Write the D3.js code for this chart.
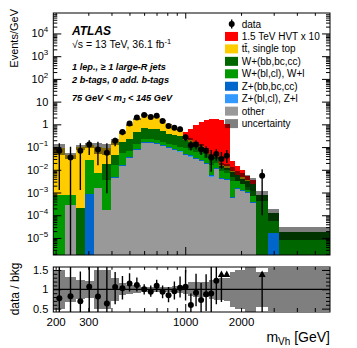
<!DOCTYPE html>
<html>
<head>
<meta charset="utf-8">
<script src="https://cdn.jsdelivr.net/npm/d3@7"></script>
<style>
  body { margin: 0; background: #fff; }
  svg { display: block; font-family: "Liberation Sans", Arial, Helvetica, sans-serif; }
  .hist rect { shape-rendering: crispEdges; }
</style>
</head>
<body>
<div id="chart"></div>
<script>
// bin edges in GeV (variable width)
const binEdges = [193, 224, 255, 286, 318, 355, 397, 436, 476, 520, 571, 624, 672, 723, 778, 838, 900, 965, 1032,
  1101, 1173, 1248, 1329, 1417, 1509, 1608, 1722, 1845, 1971, 2100, 2230, 2400, 2780, 3170, 3700, 4110, 5140, 6000];

// backgrounds, Events/GeV, one value per bin
const otherBkg = [0, 2.8e-4, 0, 0, 1.55e-3, 1.7e-4, 4.3e-3, 0.015, 0.032, 0.074,
  0.145, 0.145, 0.13, 0.11, 0.09, 0.075, 0.062, 0.045, 0.038, 0.03,
  0.024, 0.018, 0.005, 0.011, 0.004, 0.0035, 6e-4, 1.5e-3, 1.2e-3, 1e-3,
  3.6e-4, 0, 0, 0, 0, 0, 0];
const zLight = [0, 0, 0, 0, 0, 0, 1e-4, 4e-4, 1e-3, 2e-3,
  4e-3, 4e-3, 4e-3, 3e-3, 3e-3, 2e-3, 2e-3, 1.3e-3, 1.1e-3, 9e-4,
  7e-4, 5e-4, 1.5e-4, 3e-4, 1.2e-4, 1e-4, 0, 0, 0, 0,
  0, 0, 0, 0, 0, 0, 0];
const zHeavy = [0, 0, 0, 8.5e-4, 5e-5, 0, 3e-4, 1.2e-3, 3e-3, 7e-3,
  0.014, 0.014, 0.013, 0.011, 0.009, 0.008, 0.006, 0.004, 0.0035, 0.003,
  0.0024, 0.0018, 5e-4, 1.1e-3, 4e-4, 3.5e-4, 6e-5, 1.5e-4, 1.2e-4, 1e-4,
  4e-5, 0, 1.6e-5, 0, 0, 0, 0];
const wLight = [8e-4, 5e-4, 0, 0.026, 5.4e-3, 3.3e-3, 0.011, 0.04, 0.03, 0.05,
  0.06, 0.055, 0.055, 0.045, 0.04, 0.035, 0.035, 0.04, 0.035, 0.025,
  0.02, 0.014, 0.01, 0.008, 0.004, 0.0035, 0.0025, 0.0015, 0.001, 7e-4,
  8e-4, 0, 0, 0, 0, 0, 0];
const wHeavy = [0, 0, 2e-4, 0, 0, 0.015, 0.029, 0.11, 0.17, 0.33,
  0.46, 0.42, 0.40, 0.32, 0.25, 0.22, 0.2, 0.12, 0.095, 0.065,
  0.05, 0.035, 0.018, 0.015, 0.006, 0.005, 0.0045, 0.0025, 0.0018, 0.0015,
  0.0011, 8e-4, 1.04e-4, 1.9e-5, 1.9e-5, 1.9e-5, 1.9e-5];
const topBkg = [0.089, 0.042, 0.10, 0.095, 0.09, 0.07, 0.135, 0.28, 0.72, 1.34,
  1.92, 1.6, 1.6, 1.01, 0.6, 0.41, 0.28, 0.043, 0.03, 0.019,
  0.015, 0.01, 0.0056, 0.0055, 0.0018, 0.0018, 0.0013, 5e-4, 5e-4, 3e-4,
  1.4e-4, 0, 0, 0, 0, 0, 0];
const hvtSignal = [0, 0, 0, 0, 0, 0, 0, 0, 0, 0,
  0, 0, 0, 0, 0, 0, 0.01, 0.22, 0.43, 0.8,
  1.2, 1.5, 1.75, 1.75, 1.6, 1.0, 0.015, 0.008, 0.005, 0.002,
  0.001, 0, 0, 0, 0, 0, 0];
// relative background uncertainty per bin
const bkgUnc = [0.5, 0.33, 0.25, 0.22, 0.5, 0.5, 0.3, 0.15, 0.12, 0.1,
  0.07, 0.06, 0.06, 0.06, 0.07, 0.08, 0.09, 0.12, 0.18, 0.2,
  0.2, 0.2, 0.25, 0.27, 0.28, 0.3, 0.45, 0.5, 0.5, 0.65,
  0.7, 0.45, 0.55, 0.55, 0.55, 0.55, 0.55];

// data points: bin index, value and error bar ends
const dataBins = [0, 1, 2, 3, 4, 5, 6, 7, 8, 9, 10, 11, 12, 13, 14, 15, 16, 17, 18, 19, 20, 21, 22, 23, 24, 25, 31];
const dataVals = [0.069, 0.035, 0.069, 0.13, 0.079, 0.056, 0.19, 0.46, 1.1, 2.0, 2.6, 2.1, 2.4, 1.4, 0.84, 0.71,
  0.61, 0.27, 0.12, 0.13, 0.081, 0.069, 0.035, 0.050, 0.030, 0.042, 0.0054];
const dataHi = [0.146, 0.104, 0.146, 0.2, 0.17, 0.146, 0.26, 0.6, 1.35, 2.35, 2.95, 2.45, 2.75, 1.65, 1.05, 0.9,
  0.78, 0.38, 0.18, 0.2, 0.13, 0.11, 0.074, 0.08, 0.06, 0.074, 0.0105];
const dataLo = [1.3e-3, 0, 1.3e-3, 0.045, 0.016, 9.3e-4, 0.11, 0.33, 0.9, 1.7, 2.25, 1.8, 2.05, 1.15, 0.66, 0.55,
  0.46, 0.18, 0.07, 0.08, 0.045, 0.035, 0.0083, 0.025, 0.011, 0.02, 1.0e-4];

const xTickLabels = [200, 300, 1000, 2000];
const yRatioLabels = [0.5, 1, 1.5];

const legendItems = [
  { label: "1.5 TeV HVT x 10", color: "#ff0000" },
  { label: "tt\u0304, single top", color: "#ffcc00" },
  { label: "W+(bb,bc,cc)", color: "#006600" },
  { label: "W+(bl,cl), W+l", color: "#009900" },
  { label: "Z+(bb,bc,cc)", color: "#0066cc" },
  { label: "Z+(bl,cl), Z+l", color: "#3399ff" },
  { label: "other", color: "#999999" }
];

const width = 357;
const height = 348;
const left = 53.3, right = 330;
const mainTop = 13, mainBot = 255;
const ratTop = 267, ratBot = 312;

const svg = d3.select("#chart").append("svg")
  .attr("width", width)
  .attr("height", height);

const x = d3.scaleLog().domain([193, 6000]).range([left, right]);
const yMin = Math.pow(10, -5.75), yMax = Math.pow(10, 4.9);
const y = d3.scaleLog().domain([yMin, yMax]).range([mainBot, mainTop]);
const yr = d3.scaleLinear().domain([0.413, 1.576]).range([ratBot, ratTop]);

const defs = svg.append("defs");
defs.append("clipPath").attr("id", "clipMain").append("rect")
  .attr("x", left).attr("y", mainTop).attr("width", right - left).attr("height", mainBot - mainTop);
defs.append("clipPath").attr("id", "clipRatio").append("rect")
  .attr("x", left).attr("y", ratTop).attr("width", right - left).attr("height", ratBot - ratTop);

const nBins = binEdges.length - 1;
const bins = d3.range(nBins).map(i => ({ lo: binEdges[i], hi: binEdges[i + 1] }));

// stacked histogram
const layers = [
  { vals: otherBkg, color: "#999999" },
  { vals: zLight, color: "#3399ff" },
  { vals: zHeavy, color: "#0066cc" },
  { vals: wLight, color: "#009900" },
  { vals: wHeavy, color: "#006600" },
  { vals: topBkg, color: "#ffcc00" },
  { vals: hvtSignal, color: "#ff0000" }
];
const gMain = svg.append("g").attr("class", "hist").attr("clip-path", "url(#clipMain)");
const cum = bins.map(() => 0);
const bkgTotal = bins.map((b, i) => otherBkg[i] + zLight[i] + zHeavy[i] + wLight[i] + wHeavy[i] + topBkg[i]);
layers.forEach(layer => {
  bins.forEach((b, i) => {
    const v = layer.vals[i];
    if (!(v > 0)) return;
    const y0 = cum[i] > 0 ? y(cum[i]) : mainBot;
    const y1 = y(cum[i] + v);
    gMain.append("rect")
      .attr("x", x(b.lo))
      .attr("width", x(b.hi) - x(b.lo))
      .attr("y", y1)
      .attr("height", Math.max(0, y0 - y1))
      .attr("fill", layer.color);
    cum[i] += v;
  });
});

// uncertainty band on the total background
bins.forEach((b, i) => {
  const t = bkgTotal[i];
  if (!(t > 0)) return;
  const up = y(t * (1 + bkgUnc[i]));
  const dn = t * (1 - bkgUnc[i]) > 0 ? y(t * (1 - bkgUnc[i])) : mainBot;
  gMain.append("rect")
    .attr("x", x(b.lo)).attr("width", x(b.hi) - x(b.lo))
    .attr("y", up).attr("height", dn - up)
    .attr("fill", "#000").attr("fill-opacity", 0.5);
});

// data
const pts = dataBins.map((bi, k) => {
  const b = bins[bi];
  return { x: Math.sqrt(b.lo * b.hi), v: dataVals[k], lo: dataLo[k], hi: dataHi[k], bkg: bkgTotal[bi] };
});
const gPts = svg.append("g").attr("clip-path", "url(#clipMain)");
gPts.selectAll(".err").data(pts).enter().append("line")
  .attr("x1", d => x(d.x)).attr("x2", d => x(d.x))
  .attr("y1", d => y(d.hi)).attr("y2", d => d.lo > 0 ? y(d.lo) : mainBot)
  .attr("stroke", "#000").attr("stroke-width", 1.4);
gPts.selectAll(".dot").data(pts).enter().append("circle")
  .attr("cx", d => x(d.x)).attr("cy", d => y(d.v)).attr("r", 3)
  .attr("fill", "#000");

// frame & ticks helper
function frame(y0, y1) {
  svg.append("rect").attr("x", left).attr("y", y0).attr("width", right - left).attr("height", y1 - y0)
    .attr("fill", "none").attr("stroke", "#000").attr("stroke-width", 1);
}

function logMinors(d0, d1) {
  const out = [];
  for (let e = Math.floor(Math.log10(d0)); e <= Math.ceil(Math.log10(d1)); e++) {
    for (let k = 2; k <= 9; k++) {
      const v = k * Math.pow(10, e);
      if (v > d0 && v < d1) out.push(v);
    }
  }
  return out;
}

function drawXTicks(y0, y1) {
  const minors = logMinors(193, 6000).filter(v => v !== 1000);
  const g = svg.append("g");
  [[minors, 4], [[1000], 8]].forEach(([vals, len]) => {
    vals.forEach(v => {
      g.append("line").attr("x1", x(v)).attr("x2", x(v)).attr("y1", y1).attr("y2", y1 - len).attr("stroke", "#000");
      g.append("line").attr("x1", x(v)).attr("x2", x(v)).attr("y1", y0).attr("y2", y0 + len * 0.7).attr("stroke", "#000");
    });
  });
}

// main y axis
const yMajor = d3.range(-5, 5).map(e => Math.pow(10, e));
const yMinor = logMinors(yMin, yMax);
const supFmt = function (d) {
  const e = Math.round(Math.log10(d));
  const t = d3.select(this);
  t.text(null);
  if (e === 0) { t.text("1"); return; }
  if (e === 1) { t.text("10"); return; }
  t.append("tspan").text("10");
  t.append("tspan").attr("dy", -5).attr("font-size", 8).text(e < 0 ? "\u2212" + (-e) : e);
};
const axL = svg.append("g").attr("transform", `translate(${left},0)`)
  .call(d3.axisLeft(y).tickValues(yMajor).tickSize(-8).tickPadding(5).tickFormat(""));
axL.selectAll("text").each(supFmt);
axL.selectAll(".tick text").attr("font-size", 11).attr("fill", "#000").attr("font-family", null);
svg.append("g").attr("transform", `translate(${left},0)`)
  .call(d3.axisLeft(y).tickValues(yMinor).tickSize(-4).tickFormat(""));
svg.append("g").attr("transform", `translate(${right},0)`)
  .call(d3.axisRight(y).tickValues(yMajor).tickSize(-8).tickFormat(""));
svg.append("g").attr("transform", `translate(${right},0)`)
  .call(d3.axisRight(y).tickValues(yMinor).tickSize(-4).tickFormat(""));
svg.selectAll(".domain").remove();

drawXTicks(mainTop, mainBot);
frame(mainTop, mainBot);

// ratio panel
const gRat = svg.append("g").attr("class", "hist").attr("clip-path", "url(#clipRatio)");
bins.forEach((b, i) => {
  gRat.append("rect")
    .attr("x", x(b.lo)).attr("width", x(b.hi) - x(b.lo))
    .attr("y", yr(1 + bkgUnc[i])).attr("height", yr(1 - bkgUnc[i]) - yr(1 + bkgUnc[i]))
    .attr("fill", "#000").attr("fill-opacity", 0.5);
});
const gRatPts = svg.append("g").attr("clip-path", "url(#clipRatio)");
gRatPts.append("line").attr("x1", left).attr("x2", right).attr("y1", yr(1)).attr("y2", yr(1))
  .attr("stroke", "#000").attr("stroke-width", 1.2);
const rTop = yr.domain()[1];
pts.forEach(d => {
  const r = d.v / d.bkg;
  const rHi = d.hi / d.bkg, rLo = d.lo / d.bkg;
  if (r > rTop) {
    gRatPts.append("line").attr("x1", x(d.x)).attr("x2", x(d.x))
      .attr("y1", ratTop + 6).attr("y2", yr(Math.min(rLo, rTop)))
      .attr("stroke", "#000").attr("stroke-width", 1.4);
    gRatPts.append("path")
      .attr("d", `M${x(d.x) - 3.5},${ratTop + 10} L${x(d.x) + 3.5},${ratTop + 10} L${x(d.x)},${ratTop + 3.5} Z`)
      .attr("fill", "#000");
    return;
  }
  gRatPts.append("line").attr("x1", x(d.x)).attr("x2", x(d.x))
    .attr("y1", yr(rHi)).attr("y2", yr(Math.max(rLo, 0)))
    .attr("stroke", "#000").attr("stroke-width", 1.4);
  gRatPts.append("circle").attr("cx", x(d.x)).attr("cy", yr(r)).attr("r", 3).attr("fill", "#000");
});

const rMinor = [0.5, 0.6, 0.7, 0.8, 0.9, 1.1, 1.2, 1.3, 1.4, 1.5].filter(v => !yRatioLabels.includes(v));
const axR = svg.append("g").attr("transform", `translate(${left},0)`)
  .call(d3.axisLeft(yr).tickValues(yRatioLabels).tickSize(-8).tickPadding(5).tickFormat(d3.format("")));
axR.selectAll("text").attr("font-size", 11).attr("fill", "#000").attr("font-family", null);
svg.append("g").attr("transform", `translate(${left},0)`)
  .call(d3.axisLeft(yr).tickValues(rMinor).tickSize(-4).tickFormat(""));
svg.append("g").attr("transform", `translate(${right},0)`)
  .call(d3.axisRight(yr).tickValues(yRatioLabels).tickSize(-8).tickFormat(""));
svg.append("g").attr("transform", `translate(${right},0)`)
  .call(d3.axisRight(yr).tickValues(rMinor).tickSize(-4).tickFormat(""));
svg.selectAll(".domain").remove();
drawXTicks(ratTop, ratBot);
frame(ratTop, ratBot);

// x labels
svg.append("g").selectAll("text").data(xTickLabels).enter().append("text")
  .attr("x", d => x(d)).attr("y", 326).attr("text-anchor", "middle")
  .attr("font-size", 11.5).text(d => d);

const xt = svg.append("text").attr("x", right).attr("y", 342).attr("text-anchor", "end").attr("font-size", 14);
xt.append("tspan").text("m");
xt.append("tspan").attr("font-size", 10).attr("dy", 3).text("Vh");
xt.append("tspan").attr("dy", -3).text(" [GeV]");

// y titles
svg.append("text").attr("transform", "translate(18,9) rotate(-90)")
  .attr("text-anchor", "end").attr("font-size", 11).text("Events/GeV");
svg.append("text").attr("transform", "translate(19,289) rotate(-90)")
  .attr("text-anchor", "middle").attr("font-size", 12).text("data / bkg");

// labels
const lab = svg.append("g").attr("transform", "translate(72,0)");
lab.append("text").attr("y", 35).attr("font-size", 12).attr("font-weight", "bold").attr("font-style", "italic").text("ATLAS");
const sq = lab.append("text").attr("y", 47.5).attr("font-size", 10.5);
sq.append("tspan").text("\u221As = 13 TeV, 36.1 fb");
sq.append("tspan").attr("dy", -4).attr("font-size", 7.5).text("-1");
[["1 lep., \u2265 1 large-R jets", 69.5], ["2 b-tags, 0 add. b-tags", 82.5]].forEach(([t, yy]) => {
  lab.append("text").attr("y", yy).attr("font-size", 9.2).attr("font-weight", "bold").attr("font-style", "italic").text(t);
});
const mj = lab.append("text").attr("y", 100.5).attr("font-size", 9.2).attr("font-weight", "bold").attr("font-style", "italic");
mj.append("tspan").text("75 GeV < m");
mj.append("tspan").attr("dy", 2).attr("font-size", 6.5).text("J");
mj.append("tspan").attr("dy", -2).text(" < 145 GeV");

// legend
const leg = svg.append("g");
const legY0 = 24, legDy = 12.45;
leg.append("line").attr("x1", 231.7).attr("x2", 231.7).attr("y1", legY0 - 4.5).attr("y2", legY0 + 4.5).attr("stroke", "#000").attr("stroke-width", 1.4);
leg.append("circle").attr("cx", 231.7).attr("cy", legY0).attr("r", 3).attr("fill", "#000");
leg.append("text").attr("x", 241.7).attr("y", legY0 + 3.5).attr("font-size", 10).text("data");
legendItems.forEach((it, i) => {
  const yy = legY0 + legDy * (i + 1);
  leg.append("rect").attr("x", 225).attr("y", yy - 4.5).attr("width", 13).attr("height", 9).attr("fill", it.color);
  leg.append("text").attr("x", 241.7).attr("y", yy + 3.5).attr("font-size", 10).text(it.label);
});
const yu = legY0 + legDy * 8;
leg.append("rect").attr("x", 225).attr("y", yu - 4.5).attr("width", 13).attr("height", 9).attr("fill", "#000").attr("fill-opacity", 0.5);
leg.append("text").attr("x", 241.7).attr("y", yu + 3.5).attr("font-size", 10).text("uncertainty");
</script>
</body>
</html>
